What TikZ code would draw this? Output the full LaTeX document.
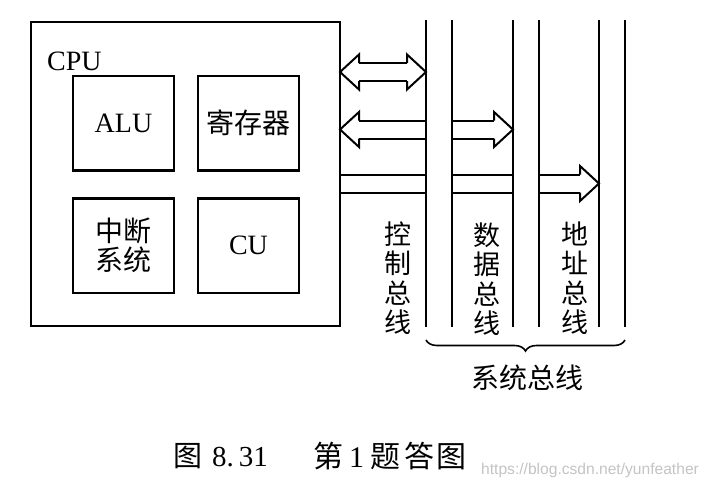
\documentclass[tikz,border=0pt]{standalone}
\usepackage{fontspec}
\setmainfont{Liberation Serif}
\newfontfamily\cjk{Noto Sans CJK SC}
\newfontfamily\wmfont{Liberation Sans}
\usepackage{tikz}
\usetikzlibrary{positioning, calc, decorations.pathreplacing}
\definecolor{wmgray}{HTML}{C4C4C4}

\tikzset{
	unitbox/.style={draw, line width=2.2pt, minimum width=101pt, minimum height=94.5pt,
		inner sep=0pt, outer sep=0pt, align=center, font=\fontsize{28}{29}\selectfont},
	cjkbox/.style={unitbox, font=\cjk\fontsize{28}{29}\selectfont},
	buslabel/.style={font=\cjk\fontsize{27}{29.5}\selectfont, align=center, inner sep=0pt},
	busline/.style={line width=2.4pt},
	hollow/.style={line width=2pt, line join=miter},
}

\newcommand{\hollowhead}[2]{%
	\draw[hollow] ($(#1)+(#2,-9)$) -- ++(0,-8.5) -- (#1) -- ($(#1)+(#2,17.5)$) -- ++(0,-8.5);}

\begin{document}
\begin{tikzpicture}[x=1pt, y=-1pt]
	\useasboundingbox[fill=white] (0,0) rectangle (709,490);
	
	\node[draw, line width=2.2pt, minimum width=309pt, minimum height=304pt, inner sep=0pt,
		outer sep=0pt, anchor=north west] (cpu) at (31,22) {};
	\node[anchor=base west, inner sep=0pt, font=\fontsize{28}{30}\selectfont] (cpulabel) at (47,70) {CPU};
	\node[unitbox, anchor=north west] (alu) at (73,76) {ALU};
	\node[cjkbox, right=24pt of alu] (reg) {寄存器};
	\node[cjkbox, below=28pt of alu] (intr) {中断\\系统};
	\node[unitbox, right=24pt of intr] (cu) {CU};
	
	\foreach \x [count=\i] in {426,452,513,539,599,625}
		\draw[busline] (\x,20) coordinate (top\i) -- (\x,327) coordinate (bot\i);
	
	\coordinate (ctrlw) at ($(cpu.north east)+(0,50)$);
	\coordinate (ctrle) at (top1 |- ctrlw);
	\coordinate (dataw) at ($(cpu.north east)+(0,107.5)$);
	\coordinate (datae) at (top3 |- dataw);
	\coordinate (addrw) at ($(cpu.north east)+(0,161.5)$);
	\coordinate (addre) at (top5 |- addrw);
	
	\hollowhead{ctrlw}{19}
	\hollowhead{ctrle}{-19}
	\hollowhead{dataw}{19}
	\hollowhead{datae}{-19}
	\hollowhead{addre}{-19}
	\foreach \s in {-9,9}{
		\draw[hollow] ($(ctrlw)+(19,\s)$) -- ($(ctrle)+(-19,\s)$);
		\draw[hollow] ($(dataw)+(19,\s)$) -- ($(top1 |- dataw)+(0,\s)$);
		\draw[hollow] ($(top2 |- dataw)+(0,\s)$) -- ($(datae)+(-19,\s)$);
		\draw[hollow] ($(addrw)+(0,\s)$) -- ($(top1 |- addrw)+(0,\s)$);
		\draw[hollow] ($(top2 |- addrw)+(0,\s)$) -- ($(top3 |- addrw)+(0,\s)$);
		\draw[hollow] ($(top4 |- addrw)+(0,\s)$) -- ($(addre)+(-19,\s)$);
	}
	
	\node[buslabel] (ctrlbus) at (398,278) {控\\制\\总\\线};
	\node[buslabel] (databus) at (487,279) {数\\据\\总\\线};
	\node[buslabel] (addrbus) at (575,278) {地\\址\\总\\线};
	
	\draw[line width=1.6pt, decorate, decoration={brace, mirror, amplitude=11pt}]
		($(bot1)+(0,13)$) -- ($(bot6)+(0,13)$);
	\node[font=\cjk\fontsize{28}{30}\selectfont, inner sep=0pt] (sysbus) at (527,378) {系统总线};
	
	\node[anchor=west, inner sep=0pt, font=\cjk\fontsize{29}{30}\selectfont] (capnum) at (173,456)
		{图\hspace{10pt}\rmfamily 8.\,31};
	\node[anchor=west, inner sep=0pt, font=\cjk\fontsize{30}{30}\selectfont] (captext) at (313,456)
		{第\hspace{6pt}\rmfamily 1\hspace{6pt}\cjk 题\hspace{4pt}答\hspace{2pt}图};
	\node[anchor=base west, inner sep=0pt, text=wmgray, font=\wmfont\fontsize{15.6}{16}\selectfont]
		(watermark) at (481,474) {https://blog.csdn.net/yunfeather};
\end{tikzpicture}
\end{document}
